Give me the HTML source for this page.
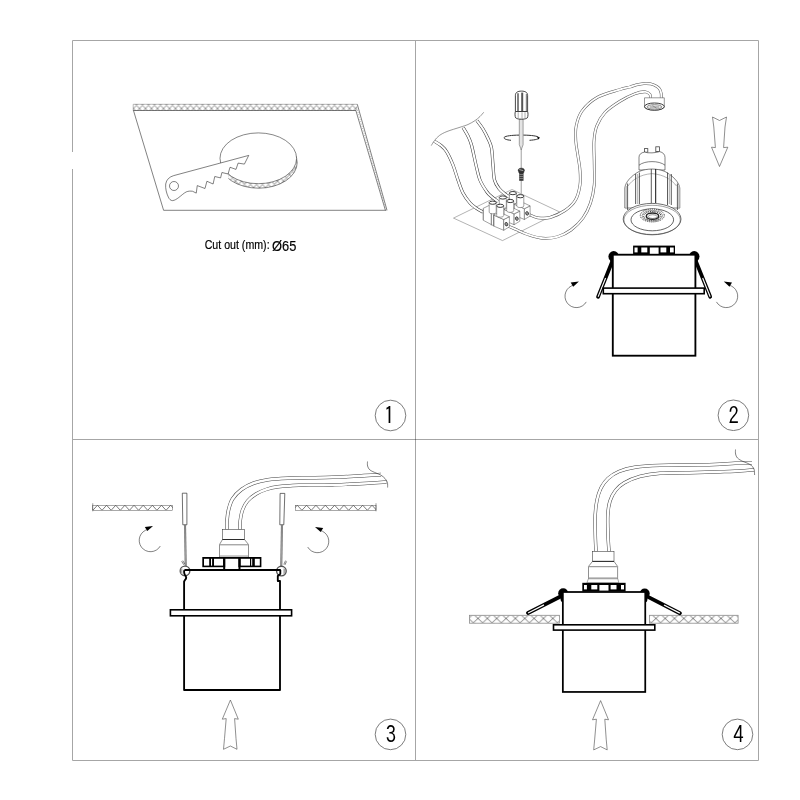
<!DOCTYPE html>
<html lang="en">
<head>
<meta charset="utf-8">
<title>Installation instructions</title>
<style>
html,body{margin:0;padding:0;background:#fff;}
body{width:800px;height:800px;overflow:hidden;font-family:"Liberation Sans",sans-serif;}
svg{display:block;position:absolute;left:0;top:0;}
.t{fill:none;stroke:#1a1a1a;stroke-width:.55;}
.tw{fill:#fff;stroke:#1a1a1a;stroke-width:.55;}
.h{fill:none;stroke:#333;stroke-width:.45;}
.fr{fill:none;stroke:#a6a6a6;stroke-width:1;}
.k{fill:none;stroke:#000;stroke-width:2;stroke-linejoin:miter;}
.kw{fill:#fff;stroke:#000;stroke-width:1.7;stroke-linejoin:miter;}
#tb .tw{stroke:#444;stroke-width:.5;}
.b{fill:#000;stroke:none;}
.w{fill:#fff;stroke:none;}
.num{font-family:IPAGothic,"Liberation Sans",sans-serif;font-size:23px;fill:#000;}
.gs{will-change:transform;}
.cap{font-family:"Liberation Sans",sans-serif;fill:#000;stroke:#000;stroke-width:.2;}
</style>
</head>
<body>
<svg width="800" height="800" viewBox="0 0 800 800">
<rect x="0" y="0" width="800" height="800" fill="#fff"/>
<defs>
<pattern id="hx1" patternUnits="userSpaceOnUse" x="130.5" y="104" width="6" height="6.6">
<path d="M0,1.3L4.97,6.6M6,1.3L1.03,6.6M0,1.3L1.22,0M6,1.3L4.78,0" fill="none" stroke="#111" stroke-width=".45"/>
</pattern>
<pattern id="hx4" patternUnits="userSpaceOnUse" x="468.65" y="615.3" width="9.35" height="7.9">
<path d="M0,3.2L5.05,7.9M9.35,3.2L4.3,7.9M0,3.2L3.44,0M9.35,3.2L5.91,0" fill="none" stroke="#2a2a2a" stroke-width=".6"/>
</pattern>
<pattern id="hx4b" patternUnits="userSpaceOnUse" x="646.6" y="615.3" width="9.3" height="7.9">
<path d="M0,3.2L5.05,7.9M9.3,3.2L4.25,7.9M0,3.2L3.44,0M9.3,3.2L5.86,0" fill="none" stroke="#2a2a2a" stroke-width=".6"/>
</pattern>
</defs>
<g id="frame">
<path class="fr" d="M72.5,152V40.5H758.5V760.5H72.5V169"/>
<path class="fr" d="M415.5,40.5V760.5M72.5,439.5H758.5"/>
<rect x="415" y="439" width="1" height="1" fill="#6a6a6a"/>
</g>
<g id="numbers" class="gs">
<circle class="nc" cx="390.5" cy="415.5" r="15.3" fill="none" stroke="#444" stroke-width=".7"/>
<text class="num" transform="translate(384.1,423.95) scale(0.9,1)" >1</text>
<circle class="nc" cx="733.4" cy="415.3" r="15.3" fill="none" stroke="#444" stroke-width=".7"/>
<text class="num" transform="translate(728.6,424.15) scale(0.9,1)" >2</text>
<circle class="nc" cx="390.5" cy="734.4" r="15.3" fill="none" stroke="#444" stroke-width=".7"/>
<text class="num" transform="translate(385.8,742.9) scale(0.9,1)" >3</text>
<circle class="nc" cx="737.5" cy="734.4" r="15.3" fill="none" stroke="#444" stroke-width=".7"/>
<text class="num" transform="translate(733.3,743.4) scale(0.9,1)" >4</text>
</g>
<g id="p1">
<path class="t" d="M133.5,110.6L163.6,210.3L386.3,210.3"/>
<path class="t" d="M357.3,104.3L387,210.3M355.9,110.6L385.4,210.3"/>
<path d="M356.6,107.5L386.2,210.3" fill="none" stroke="#999" stroke-width=".9" stroke-dasharray=".8 1.6"/>
<rect x="133.2" y="104" width="224.1" height="6.6" fill="url(#hx1)" stroke="none"/>
<path d="M133.2,110.6V104.3H357.3" fill="none" stroke="#777" stroke-width=".5"/>
<path d="M133.2,110.5H356" fill="none" stroke="#222" stroke-width=".6"/>
<clipPath id="rimc"><rect x="228.4" y="150" width="80" height="50"/></clipPath>
<ellipse cx="258.6" cy="162.6" rx="38.6" ry="25.6" fill="url(#hx1)" stroke="#222" stroke-width=".55" clip-path="url(#rimc)"/>
<ellipse cx="258.3" cy="158.3" rx="38.3" ry="25.4" fill="#fff" stroke="#222" stroke-width=".55"/>
<path class="tw" d="M173.75,175.6 C169.5,176.8 166.4,179.5 165.7,184 C165.2,188.5 166.6,193.5 168.3,197 C169.3,199.2 170.6,200.6 172.5,200.6 C174.6,200.5 176.8,199 178.75,197.5 C181.5,195.4 184,193 186.25,191.9 C188.3,191 190.5,191 192.5,191.25 L196.25,193.1 L197.25,185.6 L205,188.5 L206.9,181.25 L213.1,184 L214.75,176.5 L220.6,177.9 L221.9,172.5 L228.1,174 L230,167.25 L236,169.4 L238.1,163.1 L244.4,164.1 L248.75,155.4 Z"/>
<circle class="t" cx="174" cy="186" r="4.5"/>
<g class="gs">
<text class="cap" x="204.7" y="248.8" font-size="13.5" textLength="64.9" lengthAdjust="spacingAndGlyphs">Cut out (mm):</text>
<text class="cap" x="272" y="250.7" font-size="15.4" textLength="24.3" lengthAdjust="spacingAndGlyphs">Ø65</text>
</g>
</g>
<g id="p2">
<path class="t" d="M512,189.5L559.75,212L502.5,240.6L453.5,218.1Z" style="stroke:#666;stroke-width:.5"/>
<path class="t" d="M431.25,145.6C431.79,144.75 433.14,142.18 434.5,140.5C435.86,138.82 437.32,137 439.4,135.5C441.48,134 443.57,132.88 447,131.5C450.43,130.12 456.5,128.42 460,127.25C463.5,126.08 465.5,125.61 468,124.5C470.5,123.39 473,121.93 475,120.6C477,119.27 478.54,117.89 480,116.5C481.46,115.11 483.12,112.96 483.75,112.25" style="stroke:#444"/>
<path d="M434.3,141.25C435.42,141.96 438.97,143.79 441,145.5C443.03,147.21 444.5,148.25 446.5,151.5C448.5,154.75 451.08,160.25 453,165C454.92,169.75 456.33,175.33 458,180C459.67,184.67 461,189.17 463,193C465,196.83 467.83,200.5 470,203C472.17,205.5 473.83,206.47 476,208C478.17,209.53 481.83,211.5 483,212.2" fill="none" stroke="#333" stroke-width="3.1"/>
<path d="M434.3,141.25C435.42,141.96 438.97,143.79 441,145.5C443.03,147.21 444.5,148.25 446.5,151.5C448.5,154.75 451.08,160.25 453,165C454.92,169.75 456.33,175.33 458,180C459.67,184.67 461,189.17 463,193C465,196.83 467.83,200.5 470,203C472.17,205.5 473.83,206.47 476,208C478.17,209.53 481.83,211.5 483,212.2" fill="none" stroke="#fff" stroke-width="2.1"/>
<path d="M463.1,127.5C463.92,128.92 466.6,133.08 468,136C469.4,138.92 470.17,140.17 471.5,145C472.83,149.83 474.58,159.17 476,165C477.42,170.83 478.17,175.5 480,180C481.83,184.5 485,189.17 487,192C489,194.83 490.17,195.42 492,197C493.83,198.58 497,200.75 498,201.5" fill="none" stroke="#333" stroke-width="3.1"/>
<path d="M463.1,127.5C463.92,128.92 466.6,133.08 468,136C469.4,138.92 470.17,140.17 471.5,145C472.83,149.83 474.58,159.17 476,165C477.42,170.83 478.17,175.5 480,180C481.83,184.5 485,189.17 487,192C489,194.83 490.17,195.42 492,197C493.83,198.58 497,200.75 498,201.5" fill="none" stroke="#fff" stroke-width="2.1"/>
<path d="M476.9,120.6C477.92,122 481.13,125.97 483,129C484.87,132.03 486.68,135.58 488.1,138.75C489.52,141.92 490.68,143.62 491.5,148C492.32,152.38 492.5,159.67 493,165C493.5,170.33 493.5,176.08 494.5,180C495.5,183.92 497.25,186.17 499,188.5C500.75,190.83 503,192.42 505,194C507,195.58 510,197.33 511,198" fill="none" stroke="#333" stroke-width="3.1"/>
<path d="M476.9,120.6C477.92,122 481.13,125.97 483,129C484.87,132.03 486.68,135.58 488.1,138.75C489.52,141.92 490.68,143.62 491.5,148C492.32,152.38 492.5,159.67 493,165C493.5,170.33 493.5,176.08 494.5,180C495.5,183.92 497.25,186.17 499,188.5C500.75,190.83 503,192.42 505,194C507,195.58 510,197.33 511,198" fill="none" stroke="#fff" stroke-width="2.1"/>
<path d="M661.3,98.5C661.28,97.67 661.48,95.08 661.2,93.5C660.92,91.92 660.38,90.22 659.6,89C658.82,87.78 658,87.05 656.5,86.2C655,85.35 652.73,84.33 650.6,83.9C648.48,83.47 646.14,83.43 643.75,83.6C641.36,83.77 638.54,84.33 636.25,84.9C633.96,85.47 632.71,86.23 630,87C627.29,87.77 625.42,87.78 620,89.5C614.58,91.22 603.83,93.72 597.5,97.3C591.17,100.88 585.55,106.22 582,111C578.45,115.78 577.23,121 576.2,126C575.17,131 575.53,136.17 575.8,141C576.07,145.83 577.1,150.17 577.8,155C578.5,159.83 579.63,165 580,170C580.37,175 580.75,180 580,185C579.25,190 578,195.75 575.5,200C573,204.25 569.25,207.58 565,210.5C560.75,213.42 554.5,216.28 550,217.5C545.5,218.72 541.5,218.3 538,217.8C534.5,217.3 530.5,215.05 529,214.5" fill="none" stroke="#555" stroke-width="2.85"/>
<path d="M661.3,98.5C661.28,97.67 661.48,95.08 661.2,93.5C660.92,91.92 660.38,90.22 659.6,89C658.82,87.78 658,87.05 656.5,86.2C655,85.35 652.73,84.33 650.6,83.9C648.48,83.47 646.14,83.43 643.75,83.6C641.36,83.77 638.54,84.33 636.25,84.9C633.96,85.47 632.71,86.23 630,87C627.29,87.77 625.42,87.78 620,89.5C614.58,91.22 603.83,93.72 597.5,97.3C591.17,100.88 585.55,106.22 582,111C578.45,115.78 577.23,121 576.2,126C575.17,131 575.53,136.17 575.8,141C576.07,145.83 577.1,150.17 577.8,155C578.5,159.83 579.63,165 580,170C580.37,175 580.75,180 580,185C579.25,190 578,195.75 575.5,200C573,204.25 569.25,207.58 565,210.5C560.75,213.42 554.5,216.28 550,217.5C545.5,218.72 541.5,218.3 538,217.8C534.5,217.3 530.5,215.05 529,214.5" fill="none" stroke="#fff" stroke-width="1.85"/>
<path d="M650.5,98.5C650.42,97.83 650.83,95.62 650,94.5C649.17,93.38 648,91.92 645.5,91.8C643,91.67 639.25,92.17 635,93.75C630.75,95.33 625,98.12 620,101.25C615,104.38 608.88,108.38 605,112.5C601.12,116.62 598.58,121.25 596.75,126C594.92,130.75 594.41,134.5 594,141C593.59,147.5 594.26,157.67 594.3,165C594.34,172.33 594.88,178.67 594.25,185C593.62,191.33 592.38,197.5 590.5,203C588.62,208.5 586.25,213.5 583,218C579.75,222.5 575.25,226.88 571,230C566.75,233.12 562.25,235.38 557.5,236.75C552.75,238.12 547.5,238.62 542.5,238.25C537.5,237.88 531.92,235.96 527.5,234.5C523.08,233.04 519.25,230.92 516,229.5C512.75,228.08 509.33,226.58 508,226" fill="none" stroke="#555" stroke-width="2.85"/>
<path d="M650.5,98.5C650.42,97.83 650.83,95.62 650,94.5C649.17,93.38 648,91.92 645.5,91.8C643,91.67 639.25,92.17 635,93.75C630.75,95.33 625,98.12 620,101.25C615,104.38 608.88,108.38 605,112.5C601.12,116.62 598.58,121.25 596.75,126C594.92,130.75 594.41,134.5 594,141C593.59,147.5 594.26,157.67 594.3,165C594.34,172.33 594.88,178.67 594.25,185C593.62,191.33 592.38,197.5 590.5,203C588.62,208.5 586.25,213.5 583,218C579.75,222.5 575.25,226.88 571,230C566.75,233.12 562.25,235.38 557.5,236.75C552.75,238.12 547.5,238.62 542.5,238.25C537.5,237.88 531.92,235.96 527.5,234.5C523.08,233.04 519.25,230.92 516,229.5C512.75,228.08 509.33,226.58 508,226" fill="none" stroke="#fff" stroke-width="1.85"/>
</g>
<g id="p2b">
<g id="tb" style="--c:#444">
<path d="M521.3,149V194" fill="none" stroke="#bbb" stroke-width="1.4"/>
<path class="tw" d="M483.1,208.4L489,205.5L494,208L494,226L483.1,220.2Z"/>
<path class="tw" d="M509.4,193.1 V202.6 A3.5,1.6 0 0 0 516.4,202.6 V193.1"/>
<ellipse cx="512.9" cy="193.1" rx="3.5" ry="1.6" fill="#fff" stroke="#222" stroke-width=".9"/>
<path class="tw" d="M499.3,197.5 V207 A3.5,1.6 0 0 0 506.3,207 V197.5"/>
<ellipse cx="502.8" cy="197.5" rx="3.5" ry="1.6" fill="#fff" stroke="#222" stroke-width=".9"/>
<path class="tw" d="M489.2,202.7 V212.2 A3.5,1.6 0 0 0 496.2,212.2 V202.7"/>
<ellipse cx="492.7" cy="202.7" rx="3.5" ry="1.6" fill="#fff" stroke="#222" stroke-width=".9"/>
<path class="tw" d="M514.3,204.2L524.4,208.7L524.4,219.5L514.3,215.2Z"/>
<path class="tw" d="M524.4,208.7L530.1,205.9L530.1,216L524.4,219.5Z"/>
<path class="tw" d="M514.3,204.2L520.2,201.2L530.1,205.9L524.4,208.7Z"/>
<ellipse cx="527.1" cy="213.4" rx="1.4" ry="1.8" fill="#999" stroke="#222" stroke-width=".7" transform="rotate(-20 527.1 213.4)"/>
<path class="tw" d="M516.8,196.2 V206 A3.5,1.6 0 0 0 523.8,206 V196.2"/>
<ellipse cx="520.3" cy="196.2" rx="3.5" ry="1.6" fill="#fff" stroke="#222" stroke-width=".9"/>
<path class="tw" d="M504,209.4L514.1,213.9L514.1,224.7L504,220.4Z"/>
<path class="tw" d="M514.1,213.9L519.8,211.1L519.8,221.2L514.1,224.7Z"/>
<path class="tw" d="M504,209.4L509.9,206.4L519.8,211.1L514.1,213.9Z"/>
<ellipse cx="516.8" cy="218.6" rx="1.4" ry="1.8" fill="#999" stroke="#222" stroke-width=".7" transform="rotate(-20 516.8 218.6)"/>
<path class="tw" d="M506.7,201 V210.8 A3.5,1.6 0 0 0 513.7,210.8 V201"/>
<ellipse cx="510.2" cy="201" rx="3.5" ry="1.6" fill="#fff" stroke="#222" stroke-width=".9"/>
<path class="tw" d="M493.6,215L503.7,219.5L503.7,230.3L493.6,226Z"/>
<path class="tw" d="M503.7,219.5L509.4,216.7L509.4,226.8L503.7,230.3Z"/>
<path class="tw" d="M493.6,215L499.5,212L509.4,216.7L503.7,219.5Z"/>
<ellipse cx="506.4" cy="224.2" rx="1.4" ry="1.8" fill="#999" stroke="#222" stroke-width=".7" transform="rotate(-20 506.4 224.2)"/>
<path class="tw" d="M496.7,205.8 V215.6 A3.5,1.6 0 0 0 503.7,215.6 V205.8"/>
<ellipse cx="500.2" cy="205.8" rx="3.5" ry="1.6" fill="#fff" stroke="#222" stroke-width=".9"/>
<path d="M491.3,213.5V225.3M493.8,215V226.2" fill="none" stroke="#777" stroke-width="1"/>
<path d="M483.5,208.5V220" fill="none" stroke="#999" stroke-width="1"/>
</g>
<path d="M519.3,119V144.7L521.2,149.8L523.1,144.7V119Z" fill="#e4e4e4" stroke="#666" stroke-width=".6"/>
<path d="M515.4,111.5V95.2 C515.4,92.6 517.6,91.1 521.5,91.1 C525.4,91.1 527.6,92.6 527.6,95.2 V111.5 Z" fill="#fff" stroke="#333" stroke-width=".9"/>
<path d="M518,93.2V111" fill="none" stroke="#777" stroke-width="1.8"/>
<path d="M522.2,92.6V111" fill="none" stroke="#555" stroke-width="2"/>
<path d="M526.4,94V111" fill="none" stroke="#888" stroke-width="1.2"/>
<path d="M515.4,111.5 C514.8,113 514.8,116.5 515.8,118 C517.6,119.6 525.4,119.6 527.2,118 C528.2,116.5 528.2,113 527.6,111.5 Z" fill="#fff" stroke="#333" stroke-width=".9"/>
<path d="M518.2,112.2V118.8M522,112.2V119M525,112.2V118.8" fill="none" stroke="#999" stroke-width=".8"/>
<path d="M511,140.3 C505.5,139.8 503.6,138.6 504.2,137.4 C505.2,135.9 512,135.2 519,135.1 M523.4,135.1 C531,135.2 538.5,136 539,137.7 C539.3,139 535.5,139.9 529.5,140.3" fill="none" stroke="#333" stroke-width="1"/>
<path class="b" d="M537,136.4L539.8,137.7L538.2,139.6Z" fill="#222"/>
<path d="M518.2,170.2 C518.2,168.8 519.6,168.2 521.3,168.2 C523,168.2 524.4,168.8 524.4,170.2 L523.6,172.9 H519 Z" fill="#333" stroke="#222" stroke-width=".5"/>
<path d="M519.3,169.6L523.3,170.6" stroke="#ddd" stroke-width=".7" fill="none"/>
<rect x="519.2" y="172.7" width="4.3" height="8.1" fill="#333"/>
<path d="M519.4,174.6H523.3M519.4,176.6H523.3M519.4,178.6H523.3" stroke="#aaa" stroke-width=".7" fill="none"/>
<path class="tw" style="stroke:#444" d="M644.5,97.8 H664.3 V106.5 C664.3,111.4 644.5,111.4 644.5,106.5 Z"/>
<ellipse cx="654.4" cy="106.6" rx="9.9" ry="3.6" fill="#fff" stroke="#222" stroke-width=".9"/>
<ellipse cx="654.4" cy="106.9" rx="7.4" ry="2.3" fill="#e2e2e2" stroke="#555" stroke-width=".6"/>
<path d="M650,107H659M652.5,105.6L656.5,108.2" stroke="#666" stroke-width=".6" fill="none"/>
<path class="t" d="M712.5,117L719.5,120.5L726.5,117L725,127L723.6,147.6L727.8,147.2L719.5,166.5L711.5,147.2L715.4,147.6L713.8,127Z" style="stroke:#444;stroke-width:.6"/>
</g>
<g id="lamp">
<rect class="tw" x="644.6" y="148.6" width="3.2" height="3.6" style="stroke:#444;stroke-width:.8"/>
<rect class="tw" x="655.8" y="146.8" width="3.8" height="4.8" style="stroke:#444;stroke-width:.8"/>
<path class="tw" d="M639,170V157.2 C639,154.4 641.2,152.6 644.6,152.1 C648,153.4 656,153 659.6,151.6 C663,152.4 665,154.4 665,157.4 V170 Z"/>
<path class="t" d="M639,165.2 C645,160.4 659,160.4 665,165.2"/>
<path class="tw" d="M624.8,208 V188 C625.5,182 631,176 639,171.5 C647,168.2 657,168.2 665,171.5 C673,176 679,182 679.8,188 V208 Z"/>
<path class="t" d="M628,186 C632,180 640,174.5 652,173.6 C664,174.5 672,180 676.5,186" style="stroke:#666;stroke-width:.5"/>
<path d="M627.6,183.5V210M635.6,174V204M639.4,172.5V204M651.3,169V203M667.5,172.5V205M671.3,174V205M677.4,183.5V210" fill="none" stroke="#333" stroke-width=".8"/>
<path d="M655.7,169V203" fill="none" stroke="#111" stroke-width="1"/>
<path d="M626.2,186V209M678.9,186V209M637.5,174V204M669.4,174V204" fill="none" stroke="#bbb" stroke-width="1.3"/>
<ellipse cx="652.1" cy="219.1" rx="28.9" ry="15.7" fill="#fff" stroke="#222" stroke-width=".65"/>
<ellipse cx="652.1" cy="219.9" rx="28.2" ry="14.6" fill="none" stroke="#444" stroke-width=".5"/>
<ellipse cx="652.3" cy="219.8" rx="21.3" ry="11" fill="#fff" stroke="#222" stroke-width=".7"/>
<ellipse cx="652.3" cy="215.5" rx="12" ry="6.4" fill="#fff" stroke="#333" stroke-width="1" stroke-dasharray="1 .9"/>
<ellipse cx="652.3" cy="215.7" rx="10.2" ry="5.3" fill="none" stroke="#555" stroke-width=".6"/>
<ellipse cx="652.3" cy="215.9" rx="8.6" ry="4.4" fill="none" stroke="#333" stroke-width="1.1" stroke-dasharray=".9 .9"/>
<ellipse cx="652.5" cy="216.2" rx="6.2" ry="3.1" fill="#fff" stroke="#222" stroke-width="1.5"/>
<ellipse cx="652.7" cy="216.6" rx="4.4" ry="1.9" fill="#fff" stroke="#333" stroke-width=".5"/>
</g>
<g id="fix2">
<path d="M612.4,261 L598.1,296.8" stroke="#000" stroke-width="3.7" stroke-linecap="round" fill="none"/>
<path d="M605.6,278.03 L598.14,296.71" stroke="#fff" stroke-width="1.1" stroke-linecap="butt" fill="none"/>
<path d="M695.8,261 L710.2,296.8" stroke="#000" stroke-width="3.7" stroke-linecap="round" fill="none"/>
<path d="M702.65,278.02 L710.16,296.71" stroke="#fff" stroke-width="1.1" stroke-linecap="butt" fill="none"/>
<circle class="b" cx="613.7" cy="256.4" r="5.3"/>
<circle class="b" cx="694.2" cy="256.4" r="5.3"/>
<ellipse class="b" cx="613" cy="261.2" rx="2.5" ry="3.2"/>
<ellipse class="b" cx="695.2" cy="261.2" rx="2.5" ry="3.2"/>
<rect class="kw" x="612.8" y="254.7" width="82.6" height="101" style="stroke-width:1.85"/>
<rect class="b" x="633.1" y="245.6" width="41.9" height="9"/>
<rect class="w" x="634.5" y="247.5" width="3.1" height="4.9"/>
<rect class="w" x="641.3" y="247.5" width="6" height="4.9"/>
<rect class="w" x="649.8" y="247.5" width="8.8" height="6.3"/>
<rect class="w" x="660.5" y="247.5" width="5.8" height="4.9"/>
<rect class="w" x="670" y="247.5" width="3.7" height="4.9"/>
<rect class="kw" x="603.3" y="288.1" width="100.9" height="5.6" style="stroke-width:1.6"/>
<path class="t" d="M574.03,285.05 A11.4,11.4 0 1 0 586.27,301.9"/>
<path class="b" d="M578.9,281.6L570.7,282.6L573.2,286.8Z"/>
<path class="t" d="M728.67,285.05 A11.4,11.4 0 1 1 716.43,301.9"/>
<path class="b" d="M723.8,281.6L732,282.6L729.5,286.8Z"/>
</g>
<g id="p3">
<rect x="92.75" y="505.25" width="79.95" height="5.05" fill="#fff" stroke="#555" stroke-width=".5"/>
<clipPath id="zz92"><rect x="92.75" y="505.25" width="79.95" height="5.05"/></clipPath>
<path d="M83.7,510.3L88.28,505.25L92.85,510.3L97.43,505.25L102,510.3L106.58,505.25L111.15,510.3L115.73,505.25L120.3,510.3L124.88,505.25L129.45,510.3L134.03,505.25L138.6,510.3L143.18,505.25L147.75,510.3L152.33,505.25L156.9,510.3L161.48,505.25L166.05,510.3L170.63,505.25L175.2,510.3L179.78,505.25" fill="none" stroke="#222" stroke-width=".6" clip-path="url(#zz92)"/>
<path d="M92.75,503.25V511.3" fill="none" stroke="#333" stroke-width=".5"/>
<rect x="295.3" y="505.25" width="80.7" height="5.05" fill="#fff" stroke="#555" stroke-width=".5"/>
<clipPath id="zz295"><rect x="295.3" y="505.25" width="80.7" height="5.05"/></clipPath>
<path d="M283.2,510.3L287.88,505.25L292.55,510.3L297.23,505.25L301.9,510.3L306.58,505.25L311.25,510.3L315.93,505.25L320.6,510.3L325.28,505.25L329.95,510.3L334.63,505.25L339.3,510.3L343.98,505.25L348.65,510.3L353.33,505.25L358,510.3L362.68,505.25L367.35,510.3L372.03,505.25L376.7,510.3L381.38,505.25" fill="none" stroke="#222" stroke-width=".6" clip-path="url(#zz295)"/>
<path d="M376,503.25V511.3" fill="none" stroke="#333" stroke-width=".5"/>
<path d="M227,529.5C227,528.08 226.75,524.25 227,521C227.25,517.75 227.58,513.67 228.5,510C229.42,506.33 230.33,502.42 232.5,499C234.67,495.58 237.92,492.17 241.5,489.5C245.08,486.83 249.58,484.63 254,483C258.42,481.37 262.42,480.5 268,479.7C273.58,478.9 280.5,478.52 287.5,478.2C294.5,477.88 302.5,477.95 310,477.8C317.5,477.65 325.83,477.52 332.5,477.3C339.17,477.08 344.75,476.78 350,476.5C355.25,476.22 358.83,475.92 364,475.6C369.17,475.28 378.17,474.77 381,474.6" fill="none" stroke="#444" stroke-width="3.6"/>
<path d="M227,529.5C227,528.08 226.75,524.25 227,521C227.25,517.75 227.58,513.67 228.5,510C229.42,506.33 230.33,502.42 232.5,499C234.67,495.58 237.92,492.17 241.5,489.5C245.08,486.83 249.58,484.63 254,483C258.42,481.37 262.42,480.5 268,479.7C273.58,478.9 280.5,478.52 287.5,478.2C294.5,477.88 302.5,477.95 310,477.8C317.5,477.65 325.83,477.52 332.5,477.3C339.17,477.08 344.75,476.78 350,476.5C355.25,476.22 358.83,475.92 364,475.6C369.17,475.28 378.17,474.77 381,474.6" fill="none" stroke="#fff" stroke-width="2.6"/>
<path d="M240,529.5C240.03,528.08 239.78,524.25 240.2,521C240.62,517.75 241.28,513.33 242.5,510C243.72,506.67 245.25,503.67 247.5,501C249.75,498.33 252.92,495.92 256,494C259.08,492.08 262.33,490.7 266,489.5C269.67,488.3 272.54,487.52 278,486.8C283.46,486.08 292.58,485.45 298.75,485.2C304.92,484.95 309.38,485.33 315,485.3C320.62,485.27 326.67,485.18 332.5,485C338.33,484.82 344.75,484.45 350,484.2C355.25,483.95 357.92,483.87 364,483.5C370.08,483.13 382.75,482.25 386.5,482" fill="none" stroke="#444" stroke-width="3.4"/>
<path d="M240,529.5C240.03,528.08 239.78,524.25 240.2,521C240.62,517.75 241.28,513.33 242.5,510C243.72,506.67 245.25,503.67 247.5,501C249.75,498.33 252.92,495.92 256,494C259.08,492.08 262.33,490.7 266,489.5C269.67,488.3 272.54,487.52 278,486.8C283.46,486.08 292.58,485.45 298.75,485.2C304.92,484.95 309.38,485.33 315,485.3C320.62,485.27 326.67,485.18 332.5,485C338.33,484.82 344.75,484.45 350,484.2C355.25,483.95 357.92,483.87 364,483.5C370.08,483.13 382.75,482.25 386.5,482" fill="none" stroke="#fff" stroke-width="2.4"/>
<path class="t" d="M367.5,461.5C367.52,462.25 367.18,464.58 367.6,466C368.02,467.42 368.6,468.83 370,470C371.4,471.17 374.17,472.13 376,473C377.83,473.87 379.5,474.28 381,475.2C382.5,476.12 383.93,477.28 385,478.5C386.07,479.72 386.97,481 387.4,482.5C387.83,484 387.57,486.67 387.6,487.5"/>
<rect class="tw" x="222.5" y="529.5" width="22" height="10" style="stroke:#333"/>
<path class="tw" style="stroke:#333" d="M222.5,539.5 L219.5,544.5 V557 H248.5 V544.5 L244.5,539.5 Z"/>
<path d="M222.5,539.5H244.5" stroke="#222" stroke-width=".9" fill="none"/>
<path d="M220,544.8H248" stroke="#666" stroke-width=".8" fill="none"/>
<path d="M219.5,555.7H248.5" stroke="#999" stroke-width=".6" fill="none"/>
<rect class="b" x="202.3" y="557" width="59.1" height="10.2"/>
<rect class="w" x="204" y="558.8" width="5.2" height="6.8"/>
<rect class="w" x="211" y="558.8" width="1.1" height="6.8"/>
<rect class="w" x="214" y="558.8" width="9.1" height="6.8"/>
<rect class="w" x="225.2" y="558.8" width="13.2" height="10.2"/>
<rect class="w" x="240.6" y="558.8" width="9.4" height="6.8"/>
<rect class="w" x="251.2" y="558.8" width="1" height="6.8"/>
<rect class="w" x="254.8" y="558.8" width="5" height="6.8"/>
<path d="M224.2,557V569.5M239.5,557V569.5" stroke="#000" stroke-width="2" fill="none"/>
<path class="tw" d="M182.3,493.2H186.9V524.8H182.8Z" style="stroke:#222;stroke-width:.65"/>
<path d="M185.1,524.8L185.7,566" stroke="#555" stroke-width="1.9" fill="none"/>
<path d="M185.1,524.8L185.7,566" stroke="#bbb" stroke-width=".7" fill="none"/>
<path class="tw" d="M280.1,493.4H284.8L283.8,524.8H279.8Z" style="stroke:#222;stroke-width:.65"/>
<path d="M281.9,524.8L281.3,566" stroke="#555" stroke-width="1.9" fill="none"/>
<path d="M281.9,524.8L281.3,566" stroke="#bbb" stroke-width=".7" fill="none"/>
<circle cx="185" cy="570.9" r="4.8" fill="#fff" stroke="#555" stroke-width="1.4"/>
<circle cx="281.4" cy="571.1" r="4.8" fill="#fff" stroke="#555" stroke-width="1.4"/>
<path d="M181.6,568.5V574" stroke="#aaa" stroke-width="1.6" fill="none"/>
<path d="M284.2,568.5V574" stroke="#aaa" stroke-width="1.6" fill="none"/>
<path class="t" d="M181.6,561.2L183.8,564.8M182.8,560.6L184.8,564.2M285.6,560.6L283.8,564.4M286.6,561.4L284.8,565"/>
<path class="k" d="M184.4,570H280.8" style="stroke-width:1.85"/>
<path class="k" d="M184.4,570 C183.8,572 184,573.5 185,575 C186.6,577 186.6,578.6 185,580 L184.1,581.5 V690 H280 V581 H277.8 V576 L280.3,573.8 V570" style="stroke-linejoin:round;stroke-width:1.85"/>
<rect class="kw" x="170.4" y="609.8" width="121.2" height="6" style="stroke-width:1.6"/>
<path class="t" d="M148.15,529.35 A11.3,11.3 0 1 0 160.29,546.05"/>
<path class="b" d="M153,525.9L144.8,526.9L147.3,531.1Z"/>
<path class="t" d="M319.85,530.35 A11.3,11.3 0 1 1 307.71,547.05"/>
<path class="b" d="M315,526.9L323.2,527.9L320.7,532.1Z"/>
<path class="t" d="M230.4,700L238.3,719.2L234.6,718.6L236,738.5L237,749.3L230.4,746L223.5,749.3L224.5,738.5L226.2,718.6L222.3,719.2Z" style="stroke:#444;stroke-width:.6"/>
</g>
<g id="p4">
<rect x="469.5" y="615.3" width="89.9" height="7.9" fill="url(#hx4)" stroke="#8c8c8c" stroke-width=".8"/>
<rect x="649.5" y="615.3" width="88.6" height="7.9" fill="url(#hx4b)" stroke="#8c8c8c" stroke-width=".8"/>
<path d="M596,551.5C595.88,548.75 595.43,541.08 595.3,535C595.17,528.92 594.92,520.83 595.2,515C595.48,509.17 596.03,504.5 597,500C597.97,495.5 599.17,491.58 601,488C602.83,484.42 605,481.25 608,478.5C611,475.75 614.5,473.37 619,471.5C623.5,469.63 628.17,468.32 635,467.3C641.83,466.28 649.58,465.8 660,465.4C670.42,465 687.5,465.1 697.5,464.9C707.5,464.7 713.75,464.47 720,464.2C726.25,463.93 729.67,463.47 735,463.3C740.33,463.13 749.17,463.22 752,463.2" fill="none" stroke="#444" stroke-width="3.4"/>
<path d="M596,551.5C595.88,548.75 595.43,541.08 595.3,535C595.17,528.92 594.92,520.83 595.2,515C595.48,509.17 596.03,504.5 597,500C597.97,495.5 599.17,491.58 601,488C602.83,484.42 605,481.25 608,478.5C611,475.75 614.5,473.37 619,471.5C623.5,469.63 628.17,468.32 635,467.3C641.83,466.28 649.58,465.8 660,465.4C670.42,465 687.5,465.1 697.5,464.9C707.5,464.7 713.75,464.47 720,464.2C726.25,463.93 729.67,463.47 735,463.3C740.33,463.13 749.17,463.22 752,463.2" fill="none" stroke="#fff" stroke-width="2.4"/>
<path d="M609,551.5C608.83,548.75 608.2,541.08 608,535C607.8,528.92 607.47,520.67 607.8,515C608.13,509.33 608.72,505.08 610,501C611.28,496.92 613.17,493.5 615.5,490.5C617.83,487.5 619.92,485.35 624,483C628.08,480.65 634,478.02 640,476.4C646,474.78 650.42,473.95 660,473.3C669.58,472.65 687.5,472.75 697.5,472.5C707.5,472.25 713.75,472.02 720,471.8C726.25,471.58 729.33,471.53 735,471.2C740.67,470.87 750.83,470.03 754,469.8" fill="none" stroke="#444" stroke-width="3.4"/>
<path d="M609,551.5C608.83,548.75 608.2,541.08 608,535C607.8,528.92 607.47,520.67 607.8,515C608.13,509.33 608.72,505.08 610,501C611.28,496.92 613.17,493.5 615.5,490.5C617.83,487.5 619.92,485.35 624,483C628.08,480.65 634,478.02 640,476.4C646,474.78 650.42,473.95 660,473.3C669.58,472.65 687.5,472.75 697.5,472.5C707.5,472.25 713.75,472.02 720,471.8C726.25,471.58 729.33,471.53 735,471.2C740.67,470.87 750.83,470.03 754,469.8" fill="none" stroke="#fff" stroke-width="2.4"/>
<path class="t" d="M735.5,449.5C735.52,450.25 735.27,452.58 735.6,454C735.93,455.42 736.35,456.79 737.5,458C738.65,459.21 740.92,460.42 742.5,461.25C744.08,462.08 745.54,462.31 747,463C748.46,463.69 750.08,464.4 751.25,465.4C752.42,466.4 753.44,467.4 754,469C754.56,470.6 754.5,474 754.6,475"/>
<rect class="tw" x="592.5" y="551.4" width="21.5" height="10" style="stroke:#333"/>
<path class="tw" style="stroke:#333" d="M592.5,561.4 L588.5,566.4 V578.9 H617.6 V566.4 L614,561.4 Z"/>
<path d="M592.5,561.4H614" stroke="#222" stroke-width=".9" fill="none"/>
<path d="M589,566.7H617.1" stroke="#666" stroke-width=".8" fill="none"/>
<path d="M588.5,577.6H617.6" stroke="#999" stroke-width=".6" fill="none"/>
<path class="tw" style="stroke:#666" d="M588.4,578.8L586.9,582.8H618.8L617.8,578.8Z"/>
<path d="M561,596.2 L528,613" stroke="#000" stroke-width="3.8" stroke-linecap="round" fill="none"/>
<path d="M543.97,604.87 L528.09,612.95" stroke="#fff" stroke-width="1.2" stroke-linecap="butt" fill="none"/>
<path d="M647,596.4 L679.9,613.2" stroke="#000" stroke-width="3.8" stroke-linecap="round" fill="none"/>
<path d="M663.98,605.07 L679.81,613.15" stroke="#fff" stroke-width="1.2" stroke-linecap="butt" fill="none"/>
<circle class="b" cx="563.2" cy="593.2" r="5"/>
<circle class="b" cx="644.7" cy="593.6" r="5"/>
<ellipse class="b" cx="562.4" cy="598" rx="1.9" ry="4"/>
<ellipse class="b" cx="645.6" cy="598.2" rx="1.9" ry="4"/>
<rect class="kw" x="562.85" y="592" width="82.4" height="99.95" style="stroke-width:1.75"/>
<rect class="b" x="582.3" y="582.8" width="43.3" height="8.8"/>
<rect class="w" x="584" y="585" width="2.9" height="4.4"/>
<rect class="w" x="591.3" y="585" width="6" height="4.4"/>
<rect class="w" x="599.4" y="585" width="9.1" height="5.6"/>
<rect class="w" x="610.6" y="585" width="5.9" height="4.4"/>
<rect class="w" x="621" y="585" width="3" height="4.4"/>
<rect class="kw" x="553.5" y="624.8" width="101.3" height="5.3" style="stroke-width:1.6"/>
<path class="t" d="M600.6,700.6L608.5,719.8L604.8,719.2L606.2,739.1L607.2,749.9L600.6,746.6L593.7,749.9L594.7,739.1L596.4,719.2L592.5,719.8Z" style="stroke:#444;stroke-width:.6"/>
</g>
</svg>
</body>
</html>
